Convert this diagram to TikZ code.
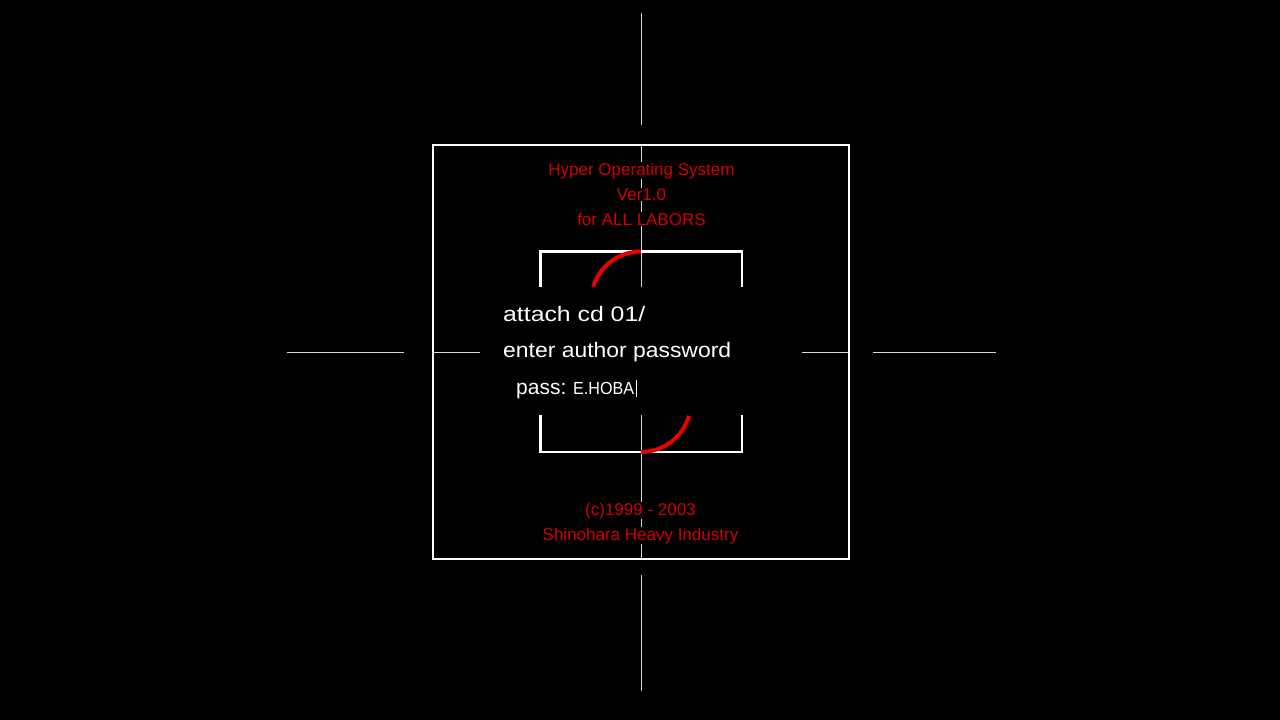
\documentclass[tikz,border=0pt]{standalone}
\usepackage{fontspec}
\usepackage{graphicx}
\setmainfont{Liberation Sans}
\definecolor{hosred}{RGB}{210,0,0}
\definecolor{arcred}{RGB}{235,0,0}
\definecolor{hairline}{RGB}{215,215,215}
\begin{document}
\begin{tikzpicture}[x=1pt,y=-1pt,
  cross/.style={draw=hairline,line width=1.8pt},
  frame/.style={draw=white,line width=2.2pt},
  spin/.style={draw=arcred,line width=4pt},
  redtxt/.style={text=hosred,fill=black,inner sep=0.5pt,anchor=base,font=\fontsize{17}{17}\selectfont},
  whitetxt/.style={text=white,inner sep=0pt,anchor=base west,font=\fontsize{21}{21}\selectfont}]
\fill[black] (0,0) rectangle (1280,720);
\useasboundingbox (0,0) rectangle (1280,720);
% crosshair
\draw[cross] (641.5,13) -- (641.5,125);
\draw[cross] (641.5,575) -- (641.5,691);
\draw[cross] (286.5,352.5) -- (403.5,352.5);
\draw[cross] (873,352.5) -- (996,352.5);
\draw[cross] (434,352.5) -- (848,352.5);
\draw[cross] (641.5,146) -- (641.5,558);
% outer frame
\draw[frame] (433,145) rectangle (849,559);
% inner brackets
\draw[frame] (540.5,300) -- (540.5,251.5) -- (742,251.5) -- (742,300);
\draw[frame] (540.5,400) -- (540.5,452) -- (742,452) -- (742,400);
% spinner arcs
\draw[spin] (641,251.5) arc[start angle=90,end angle=163,radius=50pt];
\draw[spin] (641,452) arc[start angle=-90,end angle=-16,radius=50pt];
% mask behind the prompt
\fill[black] (480,287) rectangle (802,415);
% red texts
\node[redtxt] (t1) at (641.5,175) {Hyper Operating System};
\node[redtxt] (t2) at (641.5,200) {Ver1.0};
\node[redtxt] (t3) at (641.5,225) {for ALL LABORS};
\node[redtxt] (c1) at (640.5,515) {(c)1999 - 2003};
\node[redtxt] (c2) at (640.5,540) {Shinohara Heavy Industry};
% prompt
\node[whitetxt] (p1) at (503,321) {\resizebox{142pt}{\height}{attach cd 01/}};
\node[whitetxt] (p2) at (503,357) {\resizebox{228pt}{\height}{enter author password}};
\node[whitetxt] (p3) at (516,394) {pass:};
\node[whitetxt,font=\fontsize{17.5}{17.5}\selectfont] (p4) at (573,394) {\resizebox{61pt}{\height}{E.HOBA}};
\draw[draw=white,line width=1.5pt] (636.5,380) -- (636.5,397);
\end{tikzpicture}
\end{document}
